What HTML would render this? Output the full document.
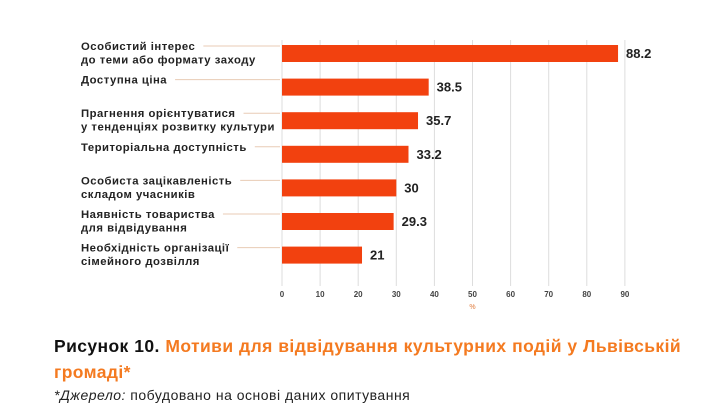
<!DOCTYPE html>
<html><head><meta charset="utf-8"><style>
body{margin:0;background:#fff;width:705px;height:412px;overflow:hidden;font-family:"Liberation Sans","DejaVu Sans",sans-serif;position:relative}
svg{position:absolute;left:0;top:0}
.cap{position:absolute;left:54px;width:627px;top:333px;font-size:17.5px;font-weight:bold;line-height:26px;text-align:justify;text-align-last:left;color:#f47a20;letter-spacing:0.4px}
.cap b{color:#111}
.src{position:absolute;left:54px;top:387px;font-size:14px;color:#222;letter-spacing:0.5px}
</style></head><body>
<svg width="705" height="330" id="chart"></svg>
<div class="cap"><b>Рисунок 10.</b> Мотиви для відвідування культурних подій у Львівській громаді*</div>
<div class="src"><i>*Джерело:</i> побудовано на основі даних опитування</div>
<script>
const categories=[["Особистий інтерес","до теми або формату заходу"],["Доступна ціна"],["Прагнення орієнтуватися","у тенденціях розвитку культури"],["Територіальна доступність"],["Особиста зацікавленість","складом учасників"],["Наявність товариства","для відвідування"],["Необхідність організації","сімейного дозвілля"]];
const values=[88.2,38.5,35.7,33.2,30,29.3,21];
const ticks=[0,10,20,30,40,50,60,70,80,90];
const NS="http://www.w3.org/2000/svg";
const svg=document.getElementById('chart');
const x0=282,pxPer=3.81;
const xs=v=>x0+v*pxPer;
const ys=i=>45+i*33.6;
const bh=17;
function mk(t,a){const e=document.createElementNS(NS,t);for(const k in a)e.setAttribute(k,a[k]);svg.appendChild(e);return e;}
ticks.forEach(t=>{
  const g=mk('line',{x1:xs(t),x2:xs(t),y1:40,y2:286,stroke:'#ddd','stroke-width':1});
  
  
  const l=mk('text',{x:xs(t),y:297,'font-size':8,'font-weight':'bold','text-anchor':'middle',fill:'#444'});
  l.textContent=t;
  
  
});
const pc=mk('text',{x:xs(50),y:309,'font-size':7,'text-anchor':'middle',fill:'#e07a3a'});
pc.textContent='%';


categories.forEach((c,i)=>{
  const y=ys(i);
  const t=mk('text',{x:81,y:y+5,'font-size':11.3,'font-weight':'bold',fill:'#222','letter-spacing':0.5});
  
  
  c.forEach((s,j)=>{const ts=document.createElementNS(NS,'tspan');ts.setAttribute('x',81);ts.setAttribute('dy',j?13.5:0);ts.textContent=s;t.appendChild(ts);});
  const firstW=t.firstChild.getComputedTextLength();
  const ln=mk('line',{x1:81+firstW+8,x2:x0-2,y1:y+1,y2:y+1,stroke:'#e8cbb5','stroke-width':1});
  
  
  const r=mk('rect',{x:x0,y:y,width:xs(values[i])-x0,height:bh,fill:'#f2410f'});
  
  
  const v=mk('text',{x:xs(values[i])+8,y:y+13,'font-size':13,'font-weight':'bold',fill:'#222'});
  v.textContent=values[i];
  
  
});
</script>
</body></html>
